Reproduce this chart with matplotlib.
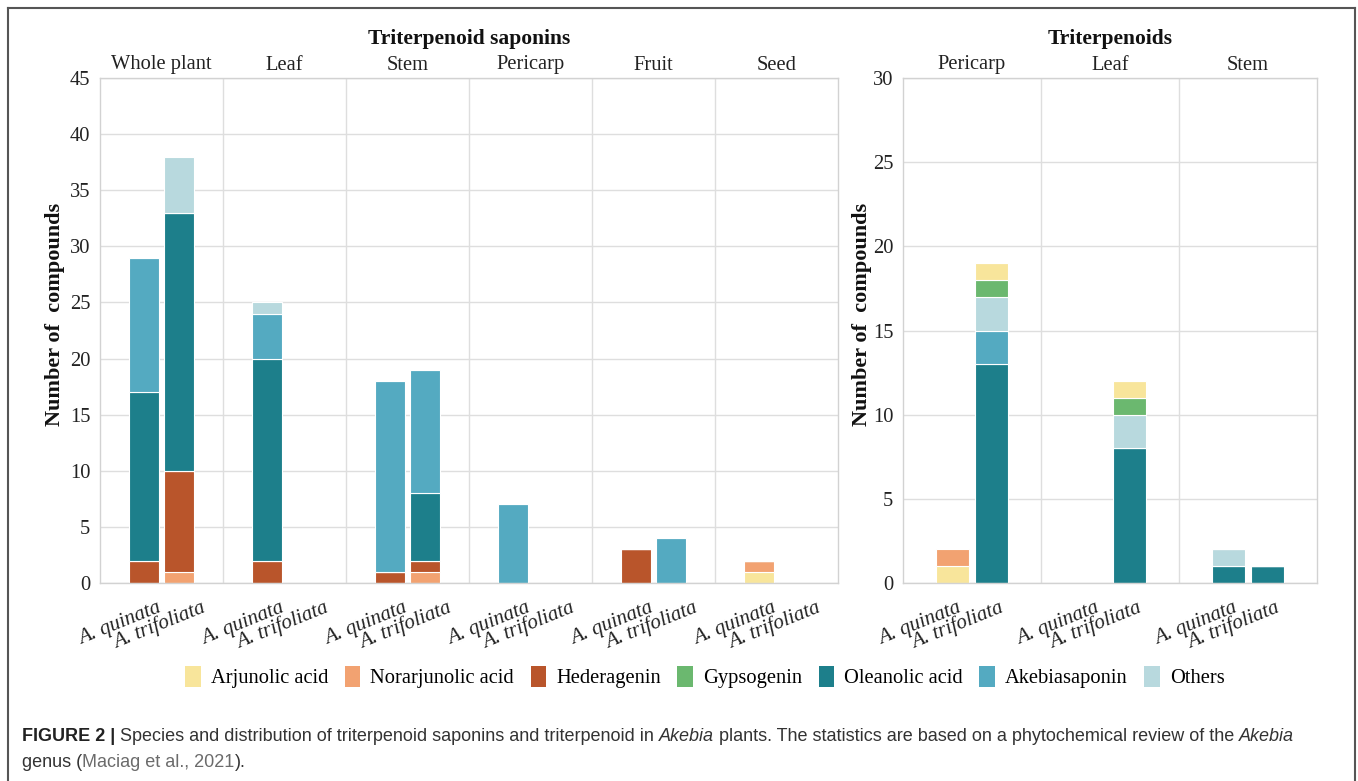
import matplotlib
matplotlib.use("Agg")
import matplotlib.pyplot as plt
from matplotlib.patches import Patch
from matplotlib.lines import Line2D

# ---------------- data ----------------
compounds = ["Arjunolic acid", "Norarjunolic acid", "Hederagenin", "Gypsogenin",
             "Oleanolic acid", "Akebiasaponin", "Others"]
colors = ["#f8e59b", "#f2a271", "#b9552b", "#6bb86f", "#1d7f8b", "#54aac1", "#b8d9de"]
species = ["A. quinata", "A. trifoliata"]

# Left panel: triterpenoid saponins
left_organs = ["Whole plant", "Leaf", "Stem", "Pericarp", "Fruit", "Seed"]
sap_arjunolic_q = [0, 0, 0, 0, 0, 1]
sap_arjunolic_t = [0, 0, 0, 0, 0, 0]
sap_norarjunolic_q = [0, 0, 0, 0, 0, 1]
sap_norarjunolic_t = [1, 0, 1, 0, 0, 0]
sap_hederagenin_q = [2, 2, 1, 0, 3, 0]
sap_hederagenin_t = [9, 0, 1, 0, 0, 0]
sap_gypsogenin_q = [0, 0, 0, 0, 0, 0]
sap_gypsogenin_t = [0, 0, 0, 0, 0, 0]
sap_oleanolic_q = [15, 18, 0, 0, 0, 0]
sap_oleanolic_t = [23, 0, 6, 0, 0, 0]
sap_akebiasaponin_q = [12, 4, 17, 7, 0, 0]
sap_akebiasaponin_t = [0, 0, 11, 0, 4, 0]
sap_others_q = [0, 1, 0, 0, 0, 0]
sap_others_t = [5, 0, 0, 0, 0, 0]

# Right panel: triterpenoids
right_organs = ["Pericarp", "Leaf", "Stem"]
tri_oleanolic_q = [0, 0, 1]
tri_oleanolic_t = [13, 8, 1]
tri_akebiasaponin_q = [0, 0, 0]
tri_akebiasaponin_t = [2, 0, 0]
tri_others_q = [0, 0, 1]
tri_others_t = [2, 2, 0]
tri_gypsogenin_q = [0, 0, 0]
tri_gypsogenin_t = [1, 1, 0]
tri_arjunolic_q = [1, 0, 0]
tri_arjunolic_t = [1, 1, 0]
tri_norarjunolic_q = [1, 0, 0]
tri_norarjunolic_t = [0, 0, 0]

left_yticks = [0, 5, 10, 15, 20, 25, 30, 35, 40, 45]
right_yticks = [0, 5, 10, 15, 20, 25, 30]

# stacking orders (bottom -> top), as (compound index, quinata, trifoliata)
left_stack = [
    (0, sap_arjunolic_q, sap_arjunolic_t),
    (1, sap_norarjunolic_q, sap_norarjunolic_t),
    (2, sap_hederagenin_q, sap_hederagenin_t),
    (3, sap_gypsogenin_q, sap_gypsogenin_t),
    (4, sap_oleanolic_q, sap_oleanolic_t),
    (5, sap_akebiasaponin_q, sap_akebiasaponin_t),
    (6, sap_others_q, sap_others_t),
]
right_stack = [
    (4, tri_oleanolic_q, tri_oleanolic_t),
    (5, tri_akebiasaponin_q, tri_akebiasaponin_t),
    (6, tri_others_q, tri_others_t),
    (3, tri_gypsogenin_q, tri_gypsogenin_t),
    (0, tri_arjunolic_q, tri_arjunolic_t),
    (1, tri_norarjunolic_q, tri_norarjunolic_t),
]

# ---------------- style ----------------
SERIF = ["Liberation Serif", "DejaVu Serif"]
SANS = ["Liberation Sans", "DejaVu Sans"]
plt.rcParams["font.family"] = SERIF
W, H = 1358, 781
fig = plt.figure(figsize=(W / 100, H / 100), dpi=100)
fig.patch.set_facecolor("white")

GRID = "#dedede"
SPINE = "#d2d2d2"
BW = 0.244
OFF = 0.142


def fx(px):
    return px / W


def fy(py):
    return 1 - py / H


def make_panel(rect, organs, stack, yticks, title, ylab_x, lab_offsets):
    ax = fig.add_axes(rect)
    n = len(organs)
    ax.set_xlim(0, n)
    ax.set_ylim(0, yticks[-1])
    ax.set_yticks(yticks)
    ax.set_yticklabels([str(t) for t in yticks], fontsize=14.8, color="#222222")
    ax.tick_params(axis="y", length=0, pad=7)
    ax.set_xticks([])
    for y in yticks:
        ax.axhline(y, color=GRID, lw=1.0, zorder=0)
    for i in range(1, n):
        ax.axvline(i, color=GRID, lw=1.0, zorder=0)
    for s in ax.spines.values():
        s.set_color(SPINE)
        s.set_linewidth(1.0)
    for s, sign in enumerate([-1, 1]):
        xs = [i + 0.5 + sign * OFF for i in range(n)]
        bottom = [0] * n
        for ci, q, t in stack:
            vals = q if s == 0 else t
            ax.bar(xs, vals, BW, bottom=bottom, color=colors[ci],
                   edgecolor="white", linewidth=0.8, zorder=2)
            bottom = [b + v for b, v in zip(bottom, vals)]
        for i, x in enumerate(xs):
            ax.annotate(species[s], xy=(x, 0), xycoords=("data", "axes fraction"),
                        xytext=(lab_offsets[s], -11), textcoords="offset points",
                        ha="right", va="top", rotation=22, rotation_mode="anchor",
                        fontsize=15, style="italic", color="#222222")
    for i, org in enumerate(organs):
        ax.text(i + 0.5, 1.0 + 13 / 505, org, transform=ax.get_xaxis_transform(),
                ha="center", va="center", fontsize=14.8, color="#222222")
    ax.text(0.5, 1.0 + 39 / 505, title, transform=ax.transAxes, ha="center",
            va="center", fontsize=15.5, fontweight="bold", color="#111111")
    ax.set_ylabel("Number of  compounds", fontsize=16, fontweight="bold", color="#111111")
    ax.yaxis.set_label_coords(ylab_x, (583 - 314) / 505)
    return ax


left_rect = [fx(100), fy(583), fx(838) - fx(100), fy(78) - fy(583)]
right_rect = [fx(903), fy(583), fx(1317) - fx(903), fy(78) - fy(583)]
make_panel(left_rect, left_organs, left_stack, left_yticks, "Triterpenoid saponins",
           (65 - 100) / 738, (9, 16))
make_panel(right_rect, right_organs, right_stack, right_yticks, "Triterpenoids",
           (872 - 903) / 414, (3, 5))

# legend
handles = [Patch(facecolor=c, edgecolor="none", label=l) for c, l in zip(colors, compounds)]
fig.legend(handles=handles, loc="center", bbox_to_anchor=(fx(705), fy(677)), ncol=7,
           frameon=False, fontsize=14.8, handlelength=0.75, handleheight=1.25,
           handletextpad=0.5, columnspacing=0.8, borderaxespad=0)

# outer frame
for xs_, ys_ in [([8, 8], [8, 781]), ([8, 1355], [8, 8]), ([1355, 1355], [8, 781])]:
    fig.add_artist(Line2D([fx(v) for v in xs_], [fy(v) for v in ys_],
                          color="#555555", lw=1.5))

# caption with mixed styles
fig.canvas.draw()
renderer = fig.canvas.get_renderer()


def write_line(pieces, x0, y0):
    x = x0
    for txt, kw in pieces:
        t = fig.text(fx(x), fy(y0), txt, ha="left", va="baseline", fontsize=12.95,
                     family=SANS, **kw)
        bb = t.get_window_extent(renderer=renderer)
        x += bb.width


CAP = "#333333"
write_line([
    ("FIGURE 2 | ", dict(fontweight="bold", color="#222222")),
    ("Species and distribution of triterpenoid saponins and triterpenoid in ", dict(color=CAP)),
    ("Akebia", dict(style="italic", color=CAP)),
    (" plants. The statistics are based on a phytochemical review of the ", dict(color=CAP)),
    ("Akebia", dict(style="italic", color=CAP)),
], 22, 741)
write_line([
    ("genus (", dict(color=CAP)),
    ("Maciag et al., 2021", dict(color="#6b6b6b")),
    (").", dict(color=CAP)),
], 22, 767)

fig.savefig("out.png", dpi=100, facecolor="white")
